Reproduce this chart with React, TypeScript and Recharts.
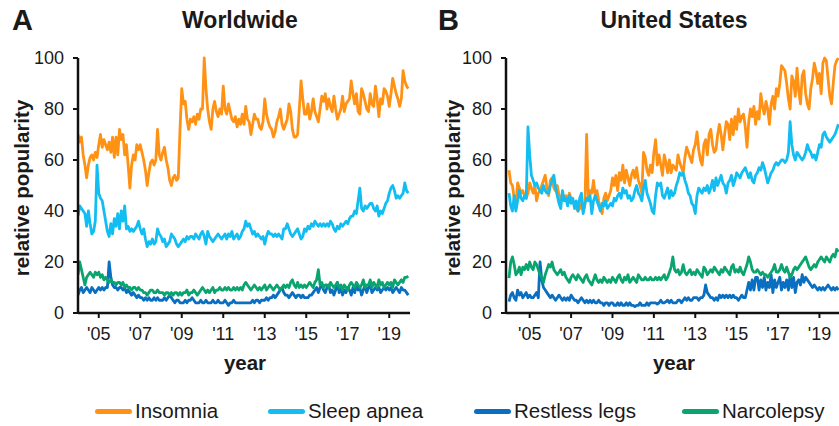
import React from 'react';
import { LineChart, Line, XAxis, YAxis } from 'recharts';

// Monthly relative popularity, Jan 2004 – Dec 2019
const wwInsomnia = [
  70, 67, 69, 62, 58, 53, 58, 61, 62, 60, 63, 61,
  66, 70, 65, 68, 66, 64, 67, 63, 69, 61, 69, 62,
  72, 68, 70, 62, 66, 58, 49, 58, 62, 60, 66, 64,
  66, 63, 60, 56, 50, 55, 59, 60, 58, 60, 72, 62,
  60, 63, 65, 60, 57, 52, 50, 53, 54, 52, 53, 72,
  88, 82, 83, 76, 72, 76, 75, 77, 74, 78, 76, 80,
  80, 100, 88, 80, 75, 72, 80, 83, 79, 77, 80, 78,
  89, 80, 78, 82, 79, 76, 75, 77, 73, 76, 74, 78,
  74, 81, 76, 75, 70, 74, 78, 76, 76, 73, 72, 75,
  84, 78, 75, 73, 72, 69, 71, 75, 77, 80, 74, 72,
  74, 76, 82, 79, 72, 69, 69, 70, 80, 91, 84, 78,
  78, 82, 76, 79, 84, 79, 77, 75, 80, 85, 83, 86,
  80, 84, 81, 79, 85, 80, 76, 78, 80, 85, 79, 82,
  83, 84, 91, 86, 82, 86, 79, 78, 88, 86, 83, 80,
  79, 86, 82, 81, 89, 84, 77, 84, 82, 88, 87, 85,
  81, 86, 92, 89, 86, 84, 81, 84, 95, 91, 89, 88,
];
const wwSleepApnea = [
  38, 42, 41, 40, 39, 34, 40, 35, 31, 32, 36, 58,
  47, 45, 44, 40, 36, 32, 30, 35, 31, 37, 34, 39,
  33, 40, 36, 42, 33, 34, 32, 33, 32, 33, 34, 36,
  33, 31, 33, 29, 26, 28, 27, 29, 27, 28, 33, 31,
  30, 28, 29, 26, 27, 28, 31, 30, 29, 27, 26, 27,
  28, 29, 28, 30, 29, 30, 30, 29, 31, 30, 29, 31,
  32, 30, 27, 32, 30, 29, 28, 29, 30, 31, 30, 29,
  30, 31, 29, 31, 30, 32, 29, 30, 31, 29, 30, 32,
  33, 36, 34, 35, 33, 31, 32, 30, 31, 30, 29, 30,
  27, 30, 32, 31, 31, 30, 31, 30, 31, 30, 29, 33,
  33, 35, 33, 31, 30, 31, 32, 33, 31, 29, 30, 33,
  32, 34, 33, 35, 34, 36, 35, 34, 35, 34, 35, 34,
  35, 34, 36, 35, 33, 32, 34, 33, 35, 34, 35, 36,
  35, 37, 38, 38, 40, 39, 44, 49, 41, 40, 42, 41,
  42, 43, 43, 41, 40, 42, 38, 40, 39, 41, 43, 44,
  47, 49, 50, 48, 45, 46, 45, 46, 47, 51, 48, 47,
];
const wwRestlessLegs = [
  7, 9, 10, 8, 9, 10, 9, 8, 10, 9, 8, 9,
  10, 9, 10, 9, 10, 10, 20, 14, 11, 10, 10, 9,
  10, 10, 9, 10, 8, 9, 8, 7, 8, 7, 6, 7,
  6, 6, 5, 6, 5, 6, 5, 5, 6, 5, 6, 5,
  5, 5, 6, 5, 6, 7, 6, 5, 4, 5, 5, 4,
  4, 4, 5, 4, 5, 5, 6, 5, 4, 4, 4, 5,
  4, 4, 5, 4, 4, 4, 5, 4, 4, 5, 4, 4,
  4, 5, 4, 3, 4, 4, 5, 4, 4, 4, 4, 4,
  4, 4, 4, 4, 4, 5, 4, 5, 5, 4, 5, 5,
  5, 6, 5, 6, 6, 7, 6, 7, 8, 9, 10, 8,
  7, 7, 6, 7, 8, 7, 6, 7, 7, 6, 7, 6,
  6, 6, 7, 7, 8, 9, 10, 8, 10, 11, 9, 8,
  10, 11, 8, 9, 7, 9, 12, 8, 10, 7, 9, 8,
  10, 9, 7, 10, 8, 11, 9, 10, 7, 9, 11, 8,
  10, 11, 8, 9, 10, 9, 10, 8, 9, 10, 9, 10,
  9, 10, 8, 9, 10, 9, 8, 10, 9, 9, 8, 7,
];
const wwNarcolepsy = [
  15, 20, 17, 14, 11, 14, 15, 16, 15, 14, 16, 15,
  16, 14, 15, 13, 14, 13, 12, 13, 12, 12, 11, 12,
  12, 11, 12, 10, 11, 10, 10, 9, 10, 10, 9, 10,
  9, 9, 8, 8, 7, 8, 9, 9, 8, 8, 9, 8,
  8, 8, 7, 8, 8, 7, 8, 7, 8, 8, 7, 8,
  7, 8, 8, 9, 7, 8, 8, 9, 8, 7, 8, 9,
  10, 9, 8, 9, 8, 9, 10, 8, 9, 9, 10, 9,
  9, 10, 9, 10, 9, 9, 10, 9, 10, 9, 10, 9,
  11, 12, 11, 10, 9, 10, 11, 10, 9, 10, 9, 10,
  11, 9, 10, 11, 10, 9, 10, 11, 10, 9, 10, 11,
  10, 11, 10, 12, 13, 11, 10, 12, 10, 11, 10, 11,
  10, 11, 12, 11, 10, 12, 13, 17, 11, 12, 10, 11,
  11, 10, 12, 11, 10, 11, 12, 10, 11, 9, 11, 10,
  9, 11, 12, 11, 10, 12, 11, 10, 11, 13, 10, 11,
  11, 13, 10, 12, 11, 10, 13, 11, 12, 10, 11, 12,
  11, 12, 10, 13, 12, 11, 12, 13, 12, 14, 14, 14.5,
];

const usInsomnia = [
  56, 51, 50, 45, 42, 51, 49, 47, 48, 46, 45, 47,
  51, 49, 47, 50, 44, 47, 48, 50, 52, 54, 49, 46,
  52, 53, 49, 48, 50, 46, 44, 47, 45, 46, 44, 47,
  45, 44, 43, 41, 40, 41, 43, 40, 42, 70, 45, 48,
  47, 52, 46, 48, 44, 41, 39, 45, 47, 44, 46, 48,
  53, 50, 54, 48, 55, 52, 58, 51, 56, 53, 50, 54,
  56, 53, 57, 52, 50, 47, 63, 61, 56, 54, 58, 55,
  63, 68, 58, 62, 58, 54, 62, 59, 55, 60, 55, 58,
  57, 56, 62, 59, 57, 55, 61, 65, 63, 61, 59, 64,
  66, 71, 64, 60, 58, 66, 68, 62, 70, 72, 66, 63,
  64, 70, 74, 70, 64, 70, 75, 74, 68, 76, 70, 77,
  72, 80, 75, 77, 78, 73, 65, 75, 80, 77, 81, 74,
  79, 76, 86, 81, 78, 83, 80, 74, 82, 85, 80, 88,
  85, 90, 97, 96, 95, 90, 84, 80, 93, 91, 85, 96,
  87, 82, 93, 95, 86, 82, 80, 88, 92, 98, 95, 90,
  94, 86, 98, 100, 99, 92, 85, 82, 90, 97, 99, 100,
];
const usSleepApnea = [
  47, 42, 40, 46, 40, 44, 48, 45, 44, 46, 45, 73,
  62, 54, 52, 50, 51, 49, 48, 47, 50, 48, 47, 47,
  50, 52, 54, 49, 46, 43, 41, 48, 44, 45, 42, 46,
  43, 45, 41, 44, 40, 45, 47, 39, 43, 45, 44, 46,
  39, 44, 46, 44, 42, 40, 43, 42, 44, 41, 42, 43,
  42, 45, 44, 46, 47, 45, 49, 47, 48, 45, 46, 44,
  45, 48, 50, 47, 46, 44, 49, 52, 47, 45, 43, 40,
  39, 46, 51, 50, 51, 46, 45, 47, 49, 45, 48, 46,
  47, 50, 52, 55, 54, 55, 52, 50, 47, 46, 43, 42,
  39, 46, 49, 48, 47, 49, 48, 50, 47, 49, 52, 48,
  53, 50, 52, 54, 51, 50, 47, 51, 52, 54, 50, 52,
  55, 54, 53, 55, 56, 57, 55, 53, 55, 52, 51, 54,
  55, 57, 56, 59, 57, 54, 51, 53, 55, 56, 58, 59,
  58, 59, 60, 60, 59, 60, 63, 75, 66, 62, 60, 63,
  62, 61, 60, 61, 63, 66, 64, 63, 61, 62, 60, 63,
  66, 65, 70, 71, 69, 68, 67, 68, 69, 70, 72, 74,
];
const usRestlessLegs = [
  4.5, 7, 8, 6, 5, 9, 7, 8, 6, 7, 8, 6,
  7, 6, 6, 7, 8, 6, 20, 13, 10, 9, 8, 7,
  6, 7, 6, 5, 6, 7, 6, 5, 6, 5, 6, 5,
  7, 6, 5, 5, 4, 5, 6, 5, 4, 5, 4, 5,
  4, 5, 4, 4, 5, 4, 4, 3, 4, 4, 3, 4,
  4, 3, 3, 4, 3, 4, 3, 3, 4, 3, 4, 3,
  3, 2.5, 3, 3, 4, 3, 3, 3, 4, 3, 4, 4,
  4, 4, 3.5, 4, 5, 4, 4, 4.5, 5, 4, 5, 4,
  4, 4, 5, 5, 4, 5, 6, 5, 6, 5, 5, 6,
  6, 6, 5, 6, 6, 7, 11, 8, 7, 6, 6, 5,
  6, 5, 7, 6, 7, 6, 7, 6, 7, 6, 7, 6,
  6, 5, 6, 7, 6, 6, 9, 12, 9, 13, 9, 14,
  14, 9, 13, 10, 14, 9, 12, 10, 15, 8, 13, 10,
  12, 14, 9, 12, 10, 13, 9, 15, 10, 14, 8, 12,
  13, 11, 15, 12, 14, 13, 12, 11, 10, 11, 10, 9,
  10, 9, 10, 9, 10, 11, 10, 9, 10, 9, 10, 9,
];
const usNarcolepsy = [
  13.7, 20, 22, 19, 15, 16, 18, 15, 18, 17, 19, 17,
  20, 18, 17, 20, 19, 17, 15, 14, 12, 15, 17, 19,
  18, 20, 17, 16, 15, 16, 17, 15, 16, 14, 13, 12,
  14, 15, 14, 13, 15, 14, 13, 12, 14, 15, 13, 12,
  11, 13, 15, 13, 12, 13, 12, 14, 13, 12, 13, 12,
  14, 13, 12, 14, 15, 13, 12, 14, 13, 15, 12, 13,
  14, 13, 12, 15, 14, 13, 13, 14, 13, 13, 14, 13,
  13, 14, 13, 14, 13, 14, 15, 13, 14, 16, 18, 22,
  17, 16, 17, 15, 16, 19, 16, 15, 16, 17, 15, 16,
  15, 17, 16, 15, 14, 18, 17, 15, 16, 17, 16, 18,
  17, 16, 15, 17, 16, 18, 17, 16, 15, 18, 19, 16,
  17, 16, 18, 16, 15, 17, 19, 22, 20, 17, 16, 16,
  17, 16, 15, 16, 15, 15, 14, 15, 16, 17, 19, 16,
  16, 17, 19, 17, 16, 18, 16, 14, 15, 17, 18, 17,
  18, 19, 20, 21, 22, 20, 18, 17, 18, 19, 18, 20,
  21, 22, 21, 20, 22, 21, 20, 22, 23, 22, 25, 24,
];

const seriesNames = ['Insomnia', 'Sleep apnea', 'Restless legs', 'Narcolepsy'];
const seriesKeys = ['ins', 'sleep', 'rls', 'narc'];
const seriesColors = ['#FF9214', '#12BDF2', '#0A6FC0', '#0AA56E'];
const yearTicks = [2005, 2007, 2009, 2011, 2013, 2015, 2017, 2019];
const yearTickLabels = ["'05", "'07", "'09", "'11", "'13", "'15", "'17", "'19"];
const valueTicks = [0, 20, 40, 60, 80, 100];
const startYear = 2004;

const buildRows = (a: number[], b: number[], c: number[], d: number[]) =>
  a.map((v, i) => ({ t: startYear + i / 12, ins: v, sleep: b[i], rls: c[i], narc: d[i] }));

const wwRows = buildRows(wwInsomnia, wwSleepApnea, wwRestlessLegs, wwNarcolepsy);
const usRows = buildRows(usInsomnia, usSleepApnea, usRestlessLegs, usNarcolepsy);

const FONT = '"Liberation Sans", Arial, Helvetica, sans-serif';
const tickStyle = { fill: '#1a1a1a', fontSize: 18, fontFamily: FONT };

function Panel({ rows, width, margin, domain }: { rows: any[]; width: number; margin: any; domain: [number, number] }) {
  return (
    <LineChart width={width} height={380} data={rows} margin={margin}>
      <XAxis
        type="number"
        dataKey="t"
        domain={domain}
        allowDataOverflow
        ticks={yearTicks}
        tickFormatter={(v: number) => yearTickLabels[yearTicks.indexOf(v)] ?? ''}
        axisLine={{ stroke: '#111', strokeWidth: 2.5 }}
        tickLine={{ stroke: '#111', strokeWidth: 2 }}
        tickSize={5}
        tickMargin={9}
        tick={tickStyle}
        height={30}
      />
      <YAxis
        type="number"
        domain={[0, 100]}
        ticks={valueTicks}
        axisLine={{ stroke: '#111', strokeWidth: 2.5 }}
        tickLine={{ stroke: '#111', strokeWidth: 2 }}
        tickSize={5}
        tickMargin={9}
        tick={tickStyle}
        width={48}
      />
      {seriesKeys.map((k, i) => (
        <Line
          key={k}
          type="linear"
          dataKey={k}
          stroke={seriesColors[i]}
          strokeWidth={2.8}
          dot={false}
          isAnimationActive={false}
          strokeLinejoin="round"
        />
      ))}
    </LineChart>
  );
}

const abs = (left: number, top: number, extra: any = {}) => ({ position: 'absolute' as const, left, top, ...extra });

export default function App() {
  const legendLefts = [95, 268, 474, 682];
  return (
    <div style={{ position: 'absolute', left: 0, top: 0, width: 839, height: 426, overflow: 'hidden', background: '#fff', fontFamily: FONT, color: '#1a1a1a' }}>
      <div style={abs(0, 0)}>
        <Panel rows={wwRows} width={420} margin={{ top: 58, right: 10, bottom: 37, left: 30 }} domain={[2004, 2020]} />
      </div>
      <div style={abs(420, 0)}>
        <Panel rows={usRows} width={430} margin={{ top: 58, right: 8, bottom: 37, left: 38 }} domain={[2003.855, 2020.09]} />
      </div>

      <div style={abs(12, 2, { fontSize: 29, fontWeight: 'bold', lineHeight: '36px' })}>A</div>
      <div style={abs(438, 2, { fontSize: 29, fontWeight: 'bold', lineHeight: '36px' })}>B</div>
      <div style={abs(140, 5, { width: 200, textAlign: 'center', fontSize: 23, fontWeight: 'bold', lineHeight: '30px' })}>Worldwide</div>
      <div style={abs(574, 5, { width: 200, textAlign: 'center', fontSize: 23, fontWeight: 'bold', lineHeight: '30px' })}>United States</div>

      <div style={abs(22 - 100, 188 - 13, { width: 200, height: 26, textAlign: 'center', fontSize: 20.5, fontWeight: 'bold', lineHeight: '26px', transform: 'rotate(-90deg)' })}>relative popularity</div>
      <div style={abs(453 - 100, 188 - 13, { width: 200, height: 26, textAlign: 'center', fontSize: 20.5, fontWeight: 'bold', lineHeight: '26px', transform: 'rotate(-90deg)' })}>relative popularity</div>
      <div style={abs(195, 350, { width: 100, textAlign: 'center', fontSize: 20.5, fontWeight: 'bold', lineHeight: '26px' })}>year</div>
      <div style={abs(624, 350, { width: 100, textAlign: 'center', fontSize: 20.5, fontWeight: 'bold', lineHeight: '26px' })}>year</div>

      {seriesNames.map((name, i) => (
        <div key={name} style={abs(legendLefts[i], 398, { display: 'flex', alignItems: 'center', height: 26, whiteSpace: 'nowrap' })}>
          <span style={{ display: 'inline-block', width: 37, height: 5, borderRadius: 3, background: seriesColors[i], marginRight: 3 }} />
          <span style={{ fontSize: 20.5, lineHeight: '26px' }}>{name}</span>
        </div>
      ))}
    </div>
  );
}
